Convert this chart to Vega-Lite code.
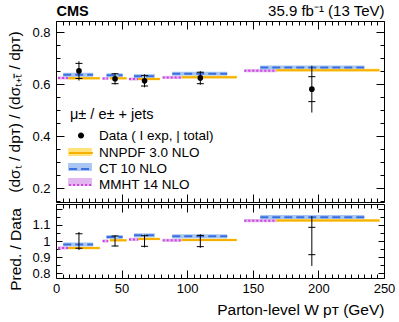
{
  "$schema": "https://vega.github.io/schema/vega-lite/v6.json",
  "padding": {"left": 6, "top": 2, "right": 5, "bottom": 5},
  "spacing": 0,
  "config": {
    "font": "Liberation Sans",
    "view": {"stroke": "black", "strokeWidth": 1},
    "axis": {"domain": false, "grid": false, "tickColor": "black", "tickWidth": 1, "tickCount": 100, "labelColor": "black", "labelFont": "Liberation Sans", "labelFontSize": 13, "titleFont": "Liberation Sans", "titleFontSize": 15.5, "titleFontWeight": "normal", "titleColor": "black", "labelOverlap": false, "labelBound": false, "labelFlush": false},
    "legend": {"labelFont": "Liberation Sans", "labelFontSize": 13.5, "labelColor": "black", "titleFont": "Liberation Sans", "titleFontSize": 14.5, "titleFontWeight": "normal", "titleColor": "black", "labelLimit": 300}
  },
  "datasets": {
    "meas": [
      {"pt": 17.5, "val": 0.651, "exp_lo": 0.622, "exp_hi": 0.680, "tot_lo": 0.614, "tot_hi": 0.688, "rexp_lo": 0.955, "rexp_hi": 1.045, "rtot_lo": 0.944, "rtot_hi": 1.056, "kind": "Data ( I exp, | total)"},
      {"pt": 45, "val": 0.621, "exp_lo": 0.602, "exp_hi": 0.640, "tot_lo": 0.599, "tot_hi": 0.643, "rexp_lo": 0.969, "rexp_hi": 1.031, "rtot_lo": 0.965, "rtot_hi": 1.035, "kind": "Data ( I exp, | total)"},
      {"pt": 67.5, "val": 0.613, "exp_lo": 0.593, "exp_hi": 0.633, "tot_lo": 0.588, "tot_hi": 0.638, "rexp_lo": 0.967, "rexp_hi": 1.033, "rtot_lo": 0.960, "rtot_hi": 1.040, "kind": "Data ( I exp, | total)"},
      {"pt": 110, "val": 0.624, "exp_lo": 0.602, "exp_hi": 0.646, "tot_lo": 0.598, "tot_hi": 0.650, "rexp_lo": 0.965, "rexp_hi": 1.035, "rtot_lo": 0.958, "rtot_hi": 1.042, "kind": "Data ( I exp, | total)"},
      {"pt": 195, "val": 0.581, "exp_lo": 0.533, "exp_hi": 0.629, "tot_lo": 0.491, "tot_hi": 0.671, "rexp_lo": 0.915, "rexp_hi": 1.085, "rtot_lo": 0.845, "rtot_hi": 1.155, "kind": "Data ( I exp, | total)"}
    ],
    "pred": [
      {"model": "MMHT 14 NLO", "band": "MMHT band", "x1": 1.6, "x2": 9.3, "y": 0.624, "ylo": 0.618, "yhi": 0.630, "r": 0.957, "rlo": 0.947, "rhi": 0.967},
      {"model": "MMHT 14 NLO", "band": "MMHT band", "x1": 35.5, "x2": 39.8, "y": 0.622, "ylo": 0.616, "yhi": 0.628, "r": 1.000, "rlo": 0.990, "rhi": 1.010},
      {"model": "MMHT 14 NLO", "band": "MMHT band", "x1": 55.6, "x2": 62.7, "y": 0.620, "ylo": 0.614, "yhi": 0.626, "r": 1.010, "rlo": 1.000, "rhi": 1.020},
      {"model": "MMHT 14 NLO", "band": "MMHT band", "x1": 81.3, "x2": 95.8, "y": 0.626, "ylo": 0.620, "yhi": 0.632, "r": 1.004, "rlo": 0.994, "rhi": 1.014},
      {"model": "MMHT 14 NLO", "band": "MMHT band", "x1": 143.5, "x2": 168, "y": 0.652, "ylo": 0.646, "yhi": 0.658, "r": 1.126, "rlo": 1.116, "rhi": 1.136},
      {"model": "CT 10 NLO", "band": "CT10 band", "x1": 5.5, "x2": 28.3, "y": 0.636, "ylo": 0.628, "yhi": 0.644, "r": 0.978, "rlo": 0.965, "rhi": 0.991},
      {"model": "CT 10 NLO", "band": "CT10 band", "x1": 38.5, "x2": 50.8, "y": 0.634, "ylo": 0.626, "yhi": 0.642, "r": 1.025, "rlo": 1.012, "rhi": 1.038},
      {"model": "CT 10 NLO", "band": "CT10 band", "x1": 59.4, "x2": 75.4, "y": 0.631, "ylo": 0.623, "yhi": 0.639, "r": 1.035, "rlo": 1.022, "rhi": 1.048},
      {"model": "CT 10 NLO", "band": "CT10 band", "x1": 88.6, "x2": 130.5, "y": 0.640, "ylo": 0.632, "yhi": 0.648, "r": 1.029, "rlo": 1.016, "rhi": 1.042},
      {"model": "CT 10 NLO", "band": "CT10 band", "x1": 155.7, "x2": 235, "y": 0.664, "ylo": 0.656, "yhi": 0.672, "r": 1.148, "rlo": 1.135, "rhi": 1.161},
      {"model": "NNPDF 3.0 NLO", "band": "NNPDF band", "x1": 9.3, "x2": 33.4, "y": 0.623, "ylo": 0.618, "yhi": 0.628, "r": 0.956, "rlo": 0.948, "rhi": 0.964},
      {"model": "NNPDF 3.0 NLO", "band": "NNPDF band", "x1": 41.1, "x2": 53.8, "y": 0.623, "ylo": 0.618, "yhi": 0.628, "r": 1.004, "rlo": 0.996, "rhi": 1.012},
      {"model": "NNPDF 3.0 NLO", "band": "NNPDF band", "x1": 62.7, "x2": 79.2, "y": 0.620, "ylo": 0.615, "yhi": 0.625, "r": 1.013, "rlo": 1.005, "rhi": 1.021},
      {"model": "NNPDF 3.0 NLO", "band": "NNPDF band", "x1": 95.8, "x2": 137.8, "y": 0.627, "ylo": 0.622, "yhi": 0.632, "r": 1.006, "rlo": 0.998, "rhi": 1.014},
      {"model": "NNPDF 3.0 NLO", "band": "NNPDF band", "x1": 168, "x2": 246.6, "y": 0.654, "ylo": 0.649, "yhi": 0.659, "r": 1.128, "rlo": 1.120, "rhi": 1.136}
    ]
  },
  "resolve": {"scale": {"fill": "independent", "stroke": "independent", "strokeDash": "independent", "color": "independent"}},
  "vconcat": [
    {
      "width": 328,
      "height": 181,
      "layer": [
        {
          "layer": [
            {
              "data": {"name": "pred"},
              "mark": {"type": "rect", "opacity": 1},
              "encoding": {
                "x": {"field": "x1", "type": "quantitative", "scale": {"domain": [0, 250], "nice": false, "zero": false},
                  "axis": {"orient": "bottom", "values": [0,5,10,15,20,25,30,35,40,45,50,55,60,65,70,75,80,85,90,95,100,105,110,115,120,125,130,135,140,145,150,155,160,165,170,175,180,185,190,195,200,205,210,215,220,225,230,235,240,245,250], "labels": false, "title": null,
                    "tickSize": {"condition": {"test": "datum.value % 50 === 0", "value": -8}, "value": -4}}},
                "x2": {"field": "x2"},
                "y": {"field": "ylo", "type": "quantitative", "scale": {"domain": [0.147, 0.843], "nice": false, "zero": false},
                  "axis": {"orient": "left", "values": [0.15,0.2,0.25,0.3,0.35,0.4,0.45,0.5,0.55,0.6,0.65,0.7,0.75,0.8],
                    "labelExpr": "abs(round(datum.value*100)) % 20 === 0 ? format(datum.value, '.1f') : ''",
                    "labelFontSize": {"condition": {"test": "abs(round(datum.value*100)) % 20 === 0", "value": 13}, "value": 0},
                    "tickSize": {"condition": {"test": "abs(round(datum.value*100)) % 20 === 0", "value": -8}, "value": -4},
                    "labelPadding": 14,
                    "title": "(dσₜ / dpᴛ) / (dσₜ₊ₜ̄ / dpᴛ)", "titleX": -42, "titleY": 90.5, "titleAngle": 270, "titleAlign": "center", "titleBaseline": "middle"}},
                "y2": {"field": "yhi"},
                "fill": {"field": "band", "type": "nominal",
                  "scale": {"domain": ["NNPDF band", "CT10 band", "MMHT band"], "range": ["#ffe27a", "#a9c6f2", "#e2b6f0"]},
                  "legend": {"orient": "none", "legendX": 17, "legendY": 124, "title": null, "symbolType": "M-1.7,-0.57H1.7V0.57H-1.7Z", "symbolSize": 196, "symbolStrokeWidth": 0, "symbolOpacity": 1, "labelOffset": 10, "rowPadding": 1,
                    "labelExpr": "''"}}
              }
            },
            {
              "data": {"name": "pred"},
              "mark": {"type": "rule", "strokeWidth": 2},
              "encoding": {
                "x": {"field": "x1", "type": "quantitative"},
                "x2": {"field": "x2"},
                "y": {"field": "y", "type": "quantitative"},
                "stroke": {"field": "model", "type": "nominal",
                  "scale": {"domain": ["NNPDF 3.0 NLO", "CT 10 NLO", "MMHT 14 NLO"], "range": ["#f7b000", "#3a6fe0", "#cc44dd"]},
                  "legend": {"orient": "none", "legendX": 17, "legendY": 124, "title": null, "symbolType": "M-1.7,0H1.7", "symbolSize": 196, "symbolStrokeWidth": 2, "labelOffset": 10, "rowPadding": 1}},
                "strokeDash": {"field": "model", "type": "nominal",
                  "scale": {"domain": ["NNPDF 3.0 NLO", "CT 10 NLO", "MMHT 14 NLO"], "range": [[1, 0], [8, 4], [2, 2]]},
                  "legend": {"orient": "none", "legendX": 17, "legendY": 124, "title": null, "symbolType": "M-1.7,0H1.7", "symbolSize": 196, "symbolStrokeWidth": 2, "labelOffset": 10, "rowPadding": 1}}
              }
            },
            {
              "data": {"name": "meas"},
              "mark": {"type": "rule", "color": "black", "strokeWidth": 1},
              "encoding": {
                "x": {"field": "pt", "type": "quantitative"},
                "y": {"field": "tot_lo", "type": "quantitative"},
                "y2": {"field": "tot_hi"}
              }
            },
            {
              "data": {"name": "meas"},
              "mark": {"type": "tick", "orient": "horizontal", "color": "black", "size": 7, "thickness": 1, "opacity": 1},
              "encoding": {
                "x": {"field": "pt", "type": "quantitative"},
                "y": {"field": "exp_lo", "type": "quantitative"}
              }
            },
            {
              "data": {"name": "meas"},
              "mark": {"type": "tick", "orient": "horizontal", "color": "black", "size": 7, "thickness": 1, "opacity": 1},
              "encoding": {
                "x": {"field": "pt", "type": "quantitative"},
                "y": {"field": "exp_hi", "type": "quantitative"}
              }
            },
            {
              "data": {"name": "meas"},
              "mark": {"type": "point", "filled": true, "size": 32, "opacity": 1},
              "encoding": {
                "x": {"field": "pt", "type": "quantitative"},
                "y": {"field": "val", "type": "quantitative"},
                "color": {"field": "kind", "type": "nominal", "scale": {"range": ["black"]},
                  "legend": {"orient": "none", "legendX": 14, "legendY": 87, "title": "μ± / e± + jets", "titlePadding": 5, "symbolOffset": 3, "symbolType": "M0.43,0A0.43,0.43 0 1,1 -0.43,0A0.43,0.43 0 1,1 0.43,0Z", "symbolSize": 196, "symbolOpacity": 1, "labelOffset": 10}}
              }
            }
          ]
        },
        {
          "data": {"name": "pred"},
          "mark": {"type": "point", "opacity": 0},
          "encoding": {
            "x": {"field": "x1", "type": "quantitative", "scale": {"domain": [0, 250], "nice": false, "zero": false},
              "axis": {"orient": "top", "values": [0,5,10,15,20,25,30,35,40,45,50,55,60,65,70,75,80,85,90,95,100,105,110,115,120,125,130,135,140,145,150,155,160,165,170,175,180,185,190,195,200,205,210,215,220,225,230,235,240,245,250], "labels": false,
                "tickSize": {"condition": {"test": "datum.value % 50 === 0", "value": -8}, "value": -4},
                "title": "35.9 fb⁻¹ (13 TeV)", "titleX": 328, "titleY": -6, "titleAlign": "right", "titleBaseline": "alphabetic", "titleAngle": 0, "titleFontSize": 15}},
            "y": {"field": "y", "type": "quantitative", "scale": {"domain": [0.147, 0.843], "nice": false, "zero": false},
              "axis": {"orient": "right", "values": [0.15,0.2,0.25,0.3,0.35,0.4,0.45,0.5,0.55,0.6,0.65,0.7,0.75,0.8], "labels": false,
                "tickSize": {"condition": {"test": "abs(round(datum.value*100)) % 20 === 0", "value": -8}, "value": -4},
                "title": "CMS", "titleX": -328, "titleY": -6, "titleAlign": "left", "titleBaseline": "alphabetic", "titleAngle": 0, "titleFontWeight": "bold", "titleFontSize": 14.5}}
          }
        }
      ],
      "resolve": {"scale": {"x": "independent", "y": "independent"}, "axis": {"x": "independent", "y": "independent"}}
    },
    {
      "width": 328,
      "height": 74,
      "layer": [
        {
          "layer": [
            {
              "data": {"name": "pred"},
              "mark": {"type": "rect", "opacity": 1},
              "encoding": {
                "x": {"field": "x1", "type": "quantitative", "scale": {"domain": [0, 250], "nice": false, "zero": false},
                  "axis": {"orient": "bottom", "values": [0,5,10,15,20,25,30,35,40,45,50,55,60,65,70,75,80,85,90,95,100,105,110,115,120,125,130,135,140,145,150,155,160,165,170,175,180,185,190,195,200,205,210,215,220,225,230,235,240,245,250],
                    "labelExpr": "datum.value % 50 === 0 ? datum.label : ''",
                    "tickSize": {"condition": {"test": "datum.value % 50 === 0", "value": -8}, "value": -4},
                    "labelPadding": 12,
                    "title": "Parton-level W pᴛ (GeV)", "titleAnchor": "end", "titlePadding": 3}},
                "x2": {"field": "x2"},
                "y": {"field": "rlo", "type": "quantitative", "scale": {"domain": [0.77, 1.23], "nice": false, "zero": false},
                  "axis": {"orient": "left", "values": [0.8,0.85,0.9,0.95,1,1.05,1.1,1.15,1.2],
                    "labelExpr": "abs(round(datum.value*100)) % 10 === 0 && datum.value < 1.15 ? format(datum.value, '~g') : ''",
                    "labelFontSize": {"condition": {"test": "abs(round(datum.value*100)) % 10 === 0 && datum.value < 1.15", "value": 13}, "value": 0},
                    "tickSize": {"condition": {"test": "abs(round(datum.value*100)) % 10 === 0", "value": -6}, "value": -4},
                    "labelPadding": 12,
                    "title": "Pred. / Data", "titleX": -41, "titleY": 45, "titleAngle": 270, "titleAlign": "center", "titleBaseline": "middle"}},
                "y2": {"field": "rhi"},
                "fill": {"field": "band", "type": "nominal",
                  "scale": {"domain": ["NNPDF band", "CT10 band", "MMHT band"], "range": ["#ffe27a", "#a9c6f2", "#e2b6f0"]},
                  "legend": null}
              }
            },
            {
              "mark": {"type": "rule", "color": "#222222", "strokeWidth": 1},
              "encoding": {"y": {"datum": 1, "type": "quantitative"}}
            },
            {
              "data": {"name": "pred"},
              "mark": {"type": "rule", "strokeWidth": 2},
              "encoding": {
                "x": {"field": "x1", "type": "quantitative"},
                "x2": {"field": "x2"},
                "y": {"field": "r", "type": "quantitative"},
                "stroke": {"field": "model", "type": "nominal",
                  "scale": {"domain": ["NNPDF 3.0 NLO", "CT 10 NLO", "MMHT 14 NLO"], "range": ["#f7b000", "#3a6fe0", "#cc44dd"]}, "legend": null},
                "strokeDash": {"field": "model", "type": "nominal",
                  "scale": {"domain": ["NNPDF 3.0 NLO", "CT 10 NLO", "MMHT 14 NLO"], "range": [[1, 0], [8, 4], [2, 2]]}, "legend": null}
              }
            },
            {
              "data": {"name": "meas"},
              "mark": {"type": "rule", "color": "black", "strokeWidth": 1},
              "encoding": {
                "x": {"field": "pt", "type": "quantitative"},
                "y": {"field": "rtot_lo", "type": "quantitative"},
                "y2": {"field": "rtot_hi"}
              }
            },
            {
              "data": {"name": "meas"},
              "mark": {"type": "tick", "orient": "horizontal", "color": "black", "size": 7, "thickness": 1, "opacity": 1},
              "encoding": {
                "x": {"field": "pt", "type": "quantitative"},
                "y": {"field": "rexp_lo", "type": "quantitative"}
              }
            },
            {
              "data": {"name": "meas"},
              "mark": {"type": "tick", "orient": "horizontal", "color": "black", "size": 7, "thickness": 1, "opacity": 1},
              "encoding": {
                "x": {"field": "pt", "type": "quantitative"},
                "y": {"field": "rexp_hi", "type": "quantitative"}
              }
            }
          ]
        },
        {
          "data": {"name": "pred"},
          "mark": {"type": "point", "opacity": 0},
          "encoding": {
            "x": {"field": "x1", "type": "quantitative", "scale": {"domain": [0, 250], "nice": false, "zero": false},
              "axis": {"orient": "top", "values": [0,5,10,15,20,25,30,35,40,45,50,55,60,65,70,75,80,85,90,95,100,105,110,115,120,125,130,135,140,145,150,155,160,165,170,175,180,185,190,195,200,205,210,215,220,225,230,235,240,245,250], "labels": false, "title": null,
                "tickSize": {"condition": {"test": "datum.value % 50 === 0", "value": -8}, "value": -4}}},
            "y": {"field": "r", "type": "quantitative", "scale": {"domain": [0.77, 1.23], "nice": false, "zero": false},
              "axis": {"orient": "right", "values": [0.8,0.85,0.9,0.95,1,1.05,1.1,1.15,1.2], "labels": false, "title": null,
                "tickSize": {"condition": {"test": "abs(round(datum.value*100)) % 10 === 0", "value": -6}, "value": -4}}}
          }
        }
      ],
      "resolve": {"scale": {"x": "independent", "y": "independent"}, "axis": {"x": "independent", "y": "independent"}}
    }
  ]
}
